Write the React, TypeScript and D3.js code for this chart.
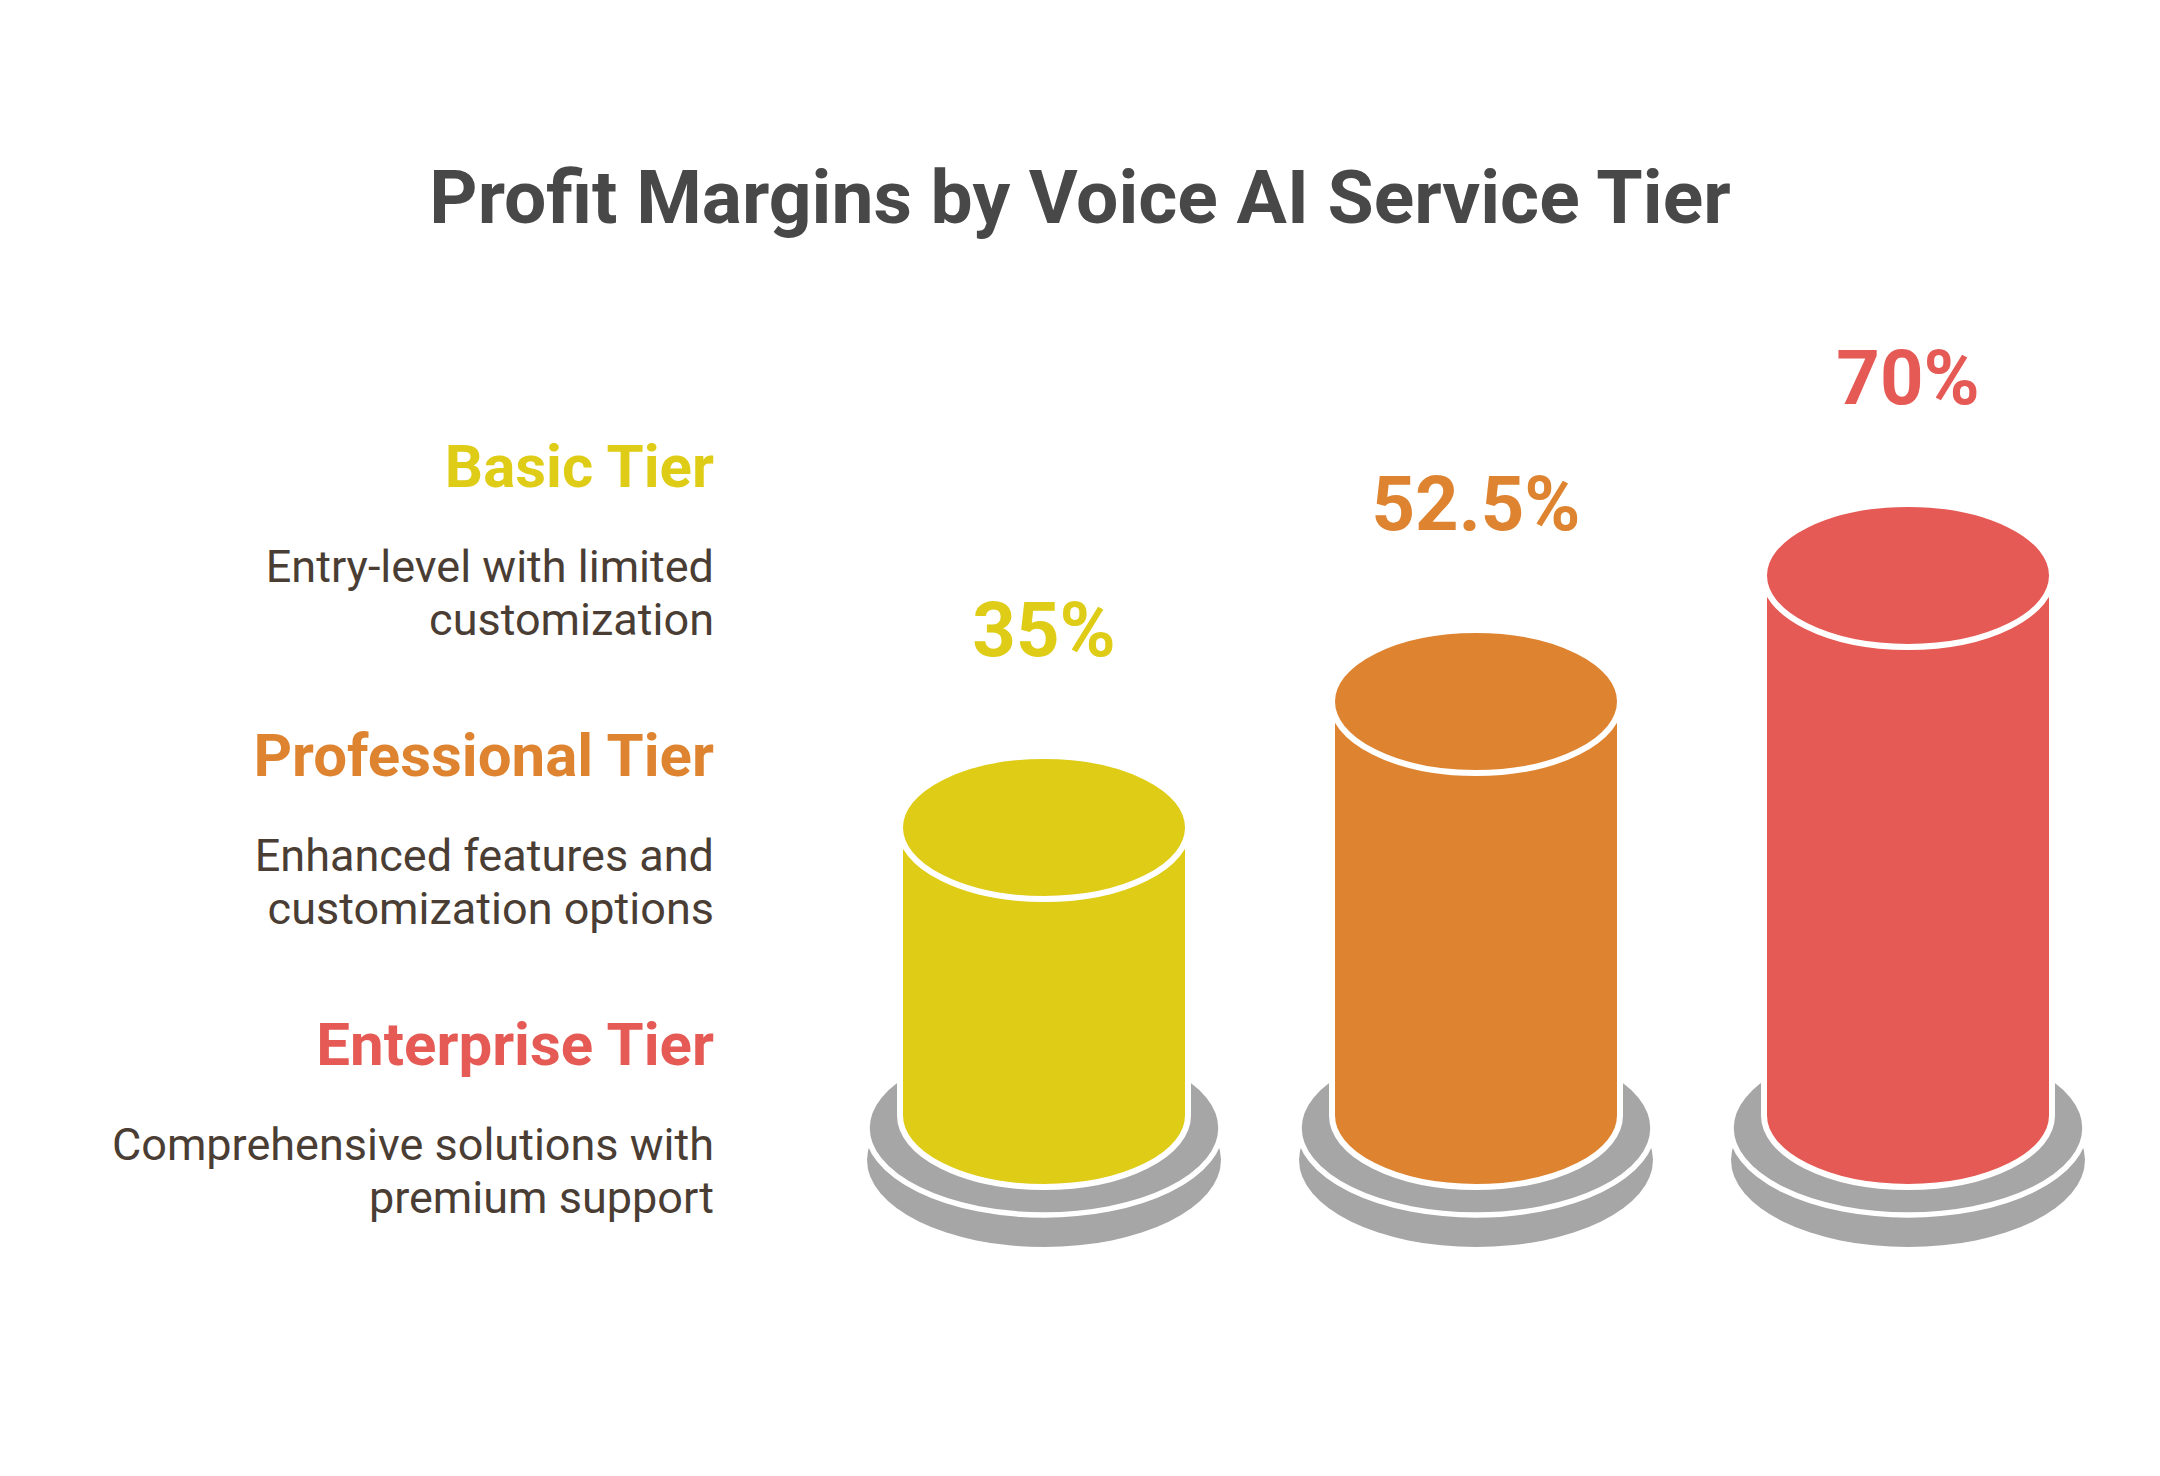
import React, { useEffect } from 'react';
import * as d3 from 'd3';

// chart data
const tiers = ['Basic Tier', 'Professional Tier', 'Enterprise Tier'];
const marginValues = [35, 52.5, 70];
const descriptions = [
  ['Entry-level with limited', 'customization'],
  ['Enhanced features and', 'customization options'],
  ['Comprehensive solutions with', 'premium support'],
];
const tierColors = ['#DFCC16', '#DE8431', '#E55A55'];

const W = 2160;
const H = 1476;

export default function App() {
  useEffect(() => {
    document.body.style.margin = '0';
  }, []);

  //scales
  const xScale = d3.scalePoint<string>().domain(tiers).range([1044, 1908]);
  const yScale = d3.scaleLinear().domain([0, 70]).range([1079.5, 575.5]);

  //cylinder geometry
  const R = 144;
  const ry = 71.5;
  const bodyBottom = 1115.5;
  const baseRx = 177;
  const baseRy = 87;
  const baseUpper = 1128;
  const baseLower = 1160;

  const bodyPath = (cx: number, top: number) =>
    `M${cx - R},${top} L${cx - R},${bodyBottom} A${R},${ry} 0 0 0 ${cx + R},${bodyBottom} L${cx + R},${top} Z`;

  const legendX = 714;
  const legendBase = 487;
  const legendStep = 289;

  return (
    <svg width={W} height={H} style={{ position: 'absolute', left: 0, top: 0, background: '#fff' }}
      fontFamily="Roboto, 'Noto Sans', sans-serif">
      <text x={W / 2} y={223} textAnchor="middle" fontSize={75} fontWeight={700} fill="#484848">
        Profit Margins by Voice AI Service Tier
      </text>

      {/* legend on the left */}
      {tiers.map((t, i) => {
        const y0 = legendBase + i * legendStep;
        return (
          <g key={t}>
            <text x={legendX} y={y0} textAnchor="end" fontSize={60} fontWeight={700} fill={tierColors[i]}>{t}</text>
            {descriptions[i].map((line, j) => (
              <text key={j} x={legendX} y={y0 + 95 + j * 52.5} textAnchor="end" fontSize={45} fill="#4A3D34">{line}</text>
            ))}
          </g>
        );
      })}

      {/* cylinders */}
      {tiers.map((t, i) => {
        const cx = xScale(t) as number;
        const top = yScale(marginValues[i]);
        return (
          <g key={t}>
            <ellipse cx={cx} cy={baseLower} rx={baseRx} ry={baseRy} fill="#A6A6A6" />
            <ellipse cx={cx} cy={baseUpper} rx={baseRx} ry={baseRy} fill="#A6A6A6" stroke="#fff" strokeWidth={5.5} />
            <path d={bodyPath(cx, top)} fill={tierColors[i]} stroke="#fff" strokeWidth={6} />
            <ellipse cx={cx} cy={top} rx={R} ry={ry} fill={tierColors[i]} stroke="#fff" strokeWidth={6} />
            <text x={cx} y={top - 172} textAnchor="middle" fontSize={76} fontWeight={700} fill={tierColors[i]}>
              {`${marginValues[i]}%`}
            </text>
          </g>
        );
      })}
    </svg>
  );
}
